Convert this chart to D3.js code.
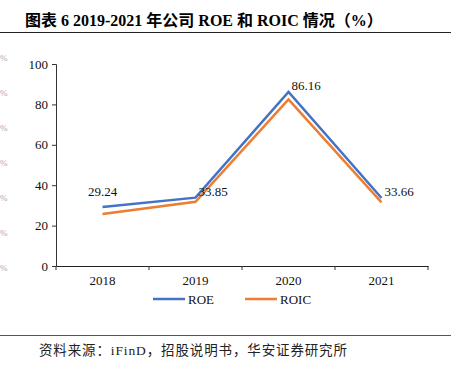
<!DOCTYPE html>
<html>
<head>
<meta charset="utf-8">
<script src="https://cdn.jsdelivr.net/npm/d3@7"></script>
<style>
  body { margin: 0; background: #fff; }
  svg text { font-family: "Liberation Serif", "Noto Sans CJK SC", serif; }
</style>
</head>
<body>
<div id="chart"></div>
<script>
// Data
const years = ["2018", "2019", "2020", "2021"];
const roe = [29.24, 33.85, 86.16, 33.66];
const roic = [25.7, 31.8, 82.5, 31.5];
const yTicks = [0, 20, 40, 60, 80, 100];
const seriesNames = ["ROE", "ROIC"];
const colors = ["#4472C4", "#ED7D31"];

const width = 454;
const height = 368;
const svg = d3.select("#chart")
  .append("svg")
  .attr("width", width)
  .attr("height", height);

// stretch a text to a target width with letter spacing
function fitWidth(sel, target) {
  const node = sel.node();
  const n = node.textContent.length;
  const w = node.getComputedTextLength();
  if (w < target) sel.attr("letter-spacing", (target - w) / (n - 1));
}

// Title and rules
const title = svg.append("text")
  .attr("x", 25)
  .attr("y", 26)
  .attr("font-size", 16)
  .attr("font-weight", "bold")
  .text("图表 6 2019-2021 年公司 ROE 和 ROIC 情况（%）");
fitWidth(title, 352);
svg.append("line")
  .attr("x1", 0).attr("x2", 451)
  .attr("y1", 32.5).attr("y2", 32.5)
  .attr("stroke", "#222").attr("stroke-width", 1);
svg.append("line")
  .attr("x1", 0).attr("x2", 451)
  .attr("y1", 335.5).attr("y2", 335.5)
  .attr("stroke", "#555").attr("stroke-width", 1);
const source = svg.append("text")
  .attr("x", 39)
  .attr("y", 355)
  .attr("font-size", 13.5)
  .attr("fill", "#222")
  .text("资料来源：iFinD，招股说明书，华安证券研究所");
fitWidth(source, 308);

// Faint leftovers at the left edge
const ghostY = [57, 92, 127, 162, 197, 232, 267];
svg.selectAll(".ghost")
  .data(ghostY)
  .join("text")
  .attr("class", "ghost")
  .attr("x", 0)
  .attr("y", d => d + 4)
  .attr("font-size", 9)
  .attr("fill", "#aaa")
  .text("%");

// Scales
const x = d3.scaleBand()
  .domain(years)
  .range([56, 428]);
const y = d3.scaleLinear()
  .domain([0, 100])
  .range([266, 64]);

// Axes
const yAxis = svg.append("g")
  .attr("transform", "translate(56, 0)")
  .call(d3.axisLeft(y).tickValues(yTicks).tickSize(4).tickPadding(4));
yAxis.select(".domain").attr("stroke", "#333");
yAxis.selectAll(".tick line").attr("stroke", "#333");
yAxis.selectAll("text")
  .attr("font-size", 13)
  .attr("fill", "#111")
  .style("font-family", "'Liberation Serif', serif");

const xAxis = svg.append("g")
  .attr("transform", "translate(0, 266)")
  .call(d3.axisBottom(x).tickSize(0).tickPadding(10));
xAxis.select(".domain").attr("stroke", "#222").attr("stroke-width", 1.2);
xAxis.selectAll("text")
  .attr("font-size", 13)
  .attr("fill", "#111")
  .style("font-family", "'Liberation Serif', serif");
// category boundary ticks
const bounds = years.map(d => x(d)).concat([x.range()[1]]);
svg.selectAll(".btick")
  .data(bounds)
  .join("line")
  .attr("class", "btick")
  .attr("x1", d => d).attr("x2", d => d)
  .attr("y1", 266).attr("y2", 270)
  .attr("stroke", "#333");

// Lines
const line = d3.line()
  .x((d, i) => x(years[i]) + x.bandwidth() / 2)
  .y(d => y(d));
[roe, roic].forEach((vals, k) => {
  svg.append("path")
    .datum(vals)
    .attr("d", line)
    .attr("fill", "none")
    .attr("stroke", colors[k])
    .attr("stroke-width", 2.5);
});

// Data labels for ROE
svg.selectAll(".lbl")
  .data(roe)
  .join("text")
  .attr("class", "lbl")
  .attr("x", (d, i) => x(years[i]) + x.bandwidth() / 2 + (i === 0 ? 0 : 3))
  .attr("y", (d, i) => y(d) - (i === 0 ? 11 : 2))
  .attr("text-anchor", (d, i) => i === 0 ? "middle" : "start")
  .attr("font-size", 13)
  .attr("fill", "#111")
  .text(d => d.toFixed(2));

// Legend
const legend = svg.append("g");
seriesNames.forEach((name, k) => {
  const lx = 153 + k * 92;
  legend.append("line")
    .attr("x1", lx).attr("x2", lx + 32)
    .attr("y1", 299).attr("y2", 299)
    .attr("stroke", colors[k])
    .attr("stroke-width", 2.5);
  legend.append("text")
    .attr("x", lx + 35)
    .attr("y", 303.5)
    .attr("font-size", 13)
    .attr("fill", "#111")
    .text(name);
});
</script>
</body>
</html>
